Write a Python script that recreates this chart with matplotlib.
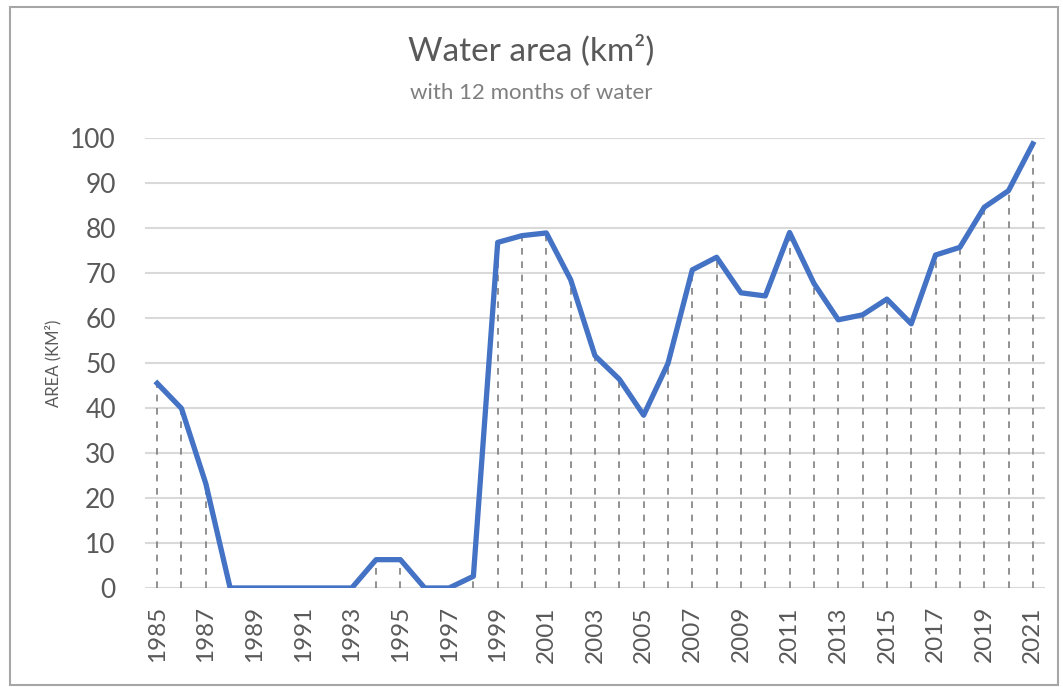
import numpy as np
import matplotlib; matplotlib.use("Agg")
import matplotlib.pyplot as plt
from matplotlib.patches import Rectangle

plt.rcParams.update({"font.family": ["Lato", "DejaVu Sans"]})

years = list(range(1985, 2022))
area = [45.5, 39.9, 23.2, 0, 0, 0, 0, 0, 0, 6.3, 6.3, 0, 0, 2.6,
        76.8, 78.3, 78.9, 68.5, 51.6, 46.4, 38.4, 49.9, 70.7, 73.5, 65.6, 64.9,
        79.0, 67.7, 59.6, 60.7, 64.2, 58.7, 74.0, 75.7, 84.6, 88.3, 98.7]
yticks = list(range(0, 101, 10))
xlabels = [str(y) for y in years[::2]]

TXT = "#595959"; BLUE = "#4472C4"
fig = plt.figure(figsize=(10.63, 6.87), dpi=100)
fig.patches.append(Rectangle((10/1063, 2/687), 1048/1063, 678/687, transform=fig.transFigure,
                             fill=False, ec="#a6a6a6", lw=1.5))
ax = fig.add_axes([145/1063, 99/687, 900/1063, 450/687])
ax.set_xlim(1984.5, 2021.5); ax.set_ylim(0, 100)
for s in ax.spines.values(): s.set_visible(False)
ax.set_yticks(yticks); ax.grid(axis="y", color="#d9d9d9", lw=1.5, zorder=0)
ax.set_xticks(years[::2], xlabels, rotation=90)
ax.tick_params(length=0, colors=TXT, labelsize=19)
ax.tick_params(axis="x", labelsize=17.5, pad=13)
ax.tick_params(axis="y", pad=21)
ax.vlines(years, 0, area, colors="#7f7f7f", linestyles=(0, (4, 4)), lw=1.2, zorder=2)
ax.plot(years, area, color=BLUE, lw=3.8, solid_joinstyle="round", zorder=3)
ax.set_ylabel("AREA (KM²)", fontsize=12, color=TXT, labelpad=6)
fig.text(0.5, 1 - 50/687, "Water area (km²)", ha="center", va="center", fontsize=24,
         color=TXT)
fig.text(0.5, 1 - 93/687, "with 12 months of water", ha="center", va="center", fontsize=16,
         color="#7f7f7f")
fig.savefig("out.png", dpi=100)
